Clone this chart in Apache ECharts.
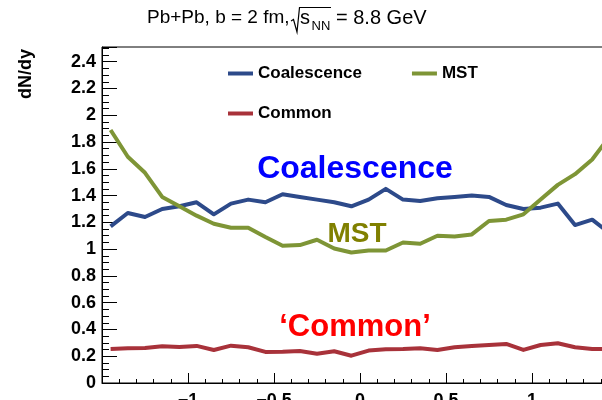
<!DOCTYPE html>
<html>
<head>
<meta charset="utf-8">
<script src="https://cdn.jsdelivr.net/npm/echarts@6/dist/echarts.min.js"></script>
<style>
  html, body { margin: 0; padding: 0; background: #fff; }
  #chart { width: 602px; height: 400px; }
</style>
</head>
<body>
<div id="chart"></div>
<script>
// Rapidity bin centres (bin width 0.1)
const rapidity = [-1.45, -1.35, -1.25, -1.15, -1.05, -0.95, -0.85, -0.75, -0.65, -0.55,
                  -0.45, -0.35, -0.25, -0.15, -0.05, 0.05, 0.15, 0.25, 0.35, 0.45,
                  0.55, 0.65, 0.75, 0.85, 0.95, 1.05, 1.15, 1.25, 1.35, 1.45];

// dN/dy per bin for each clusterisation method
const coalescence = [1.17, 1.27, 1.24, 1.30, 1.32, 1.35, 1.26, 1.34, 1.37, 1.35,
                     1.41, 1.39, 1.37, 1.35, 1.32, 1.37, 1.45, 1.37, 1.36, 1.38,
                     1.39, 1.40, 1.39, 1.33, 1.30, 1.31, 1.34, 1.18, 1.22, 1.12];
const mst = [1.89, 1.69, 1.57, 1.39, 1.32, 1.25, 1.19, 1.16, 1.16, 1.09,
             1.025, 1.03, 1.07, 1.005, 0.975, 0.99, 0.99, 1.05, 1.04, 1.10,
             1.095, 1.11, 1.21, 1.22, 1.26, 1.37, 1.48, 1.56, 1.67, 1.84];
const common = [0.254, 0.259, 0.262, 0.274, 0.269, 0.277, 0.247, 0.279, 0.267, 0.232,
                0.234, 0.239, 0.219, 0.237, 0.204, 0.242, 0.252, 0.254, 0.259, 0.247,
                0.267, 0.277, 0.284, 0.292, 0.247, 0.284, 0.297, 0.267, 0.254, 0.254];

const seriesNames = ['Coalescence', 'MST', 'Common'];
const seriesColors = ['#2d4a8a', '#7e9536', '#a8323a'];

const FONT = '"Liberation Sans", Arial, Helvetica, sans-serif';

function pairs(values) {
  return rapidity.map((x, i) => [x, values[i]]);
}
function minusSign(v) {
  return String(v).replace('-', '\u2212');
}

const chart = echarts.init(document.getElementById('chart'), null, { renderer: 'canvas' });

const option = {
  animation: false,
  backgroundColor: '#ffffff',
  grid: {
    left: 102, top: 47, width: 516, height: 336,
    outerBoundsMode: 'none', containLabel: false,
    show: true, borderColor: '#000', borderWidth: 1, backgroundColor: 'transparent'
  },
  xAxis: {
    type: 'value', min: -1.5, max: 1.5, interval: 0.5,
    axisLine: { show: true, onZero: false, lineStyle: { color: '#000', width: 1 } },
    axisTick: { show: true, inside: true, length: 10, lineStyle: { color: '#000' } },
    minorTick: { show: true, splitNumber: 5, length: 4, lineStyle: { color: '#000' } },
    splitLine: { show: false },
    axisLabel: {
      showMinLabel: false, showMaxLabel: false, margin: 9, hideOverlap: false,
      color: '#000', fontFamily: FONT, fontWeight: 'bold', fontSize: 18,
      formatter: minusSign
    }
  },
  yAxis: {
    type: 'value', min: 0, max: 2.51, interval: 0.2,
    axisLine: { show: true, onZero: false, lineStyle: { color: '#000', width: 1 } },
    axisTick: { show: true, inside: true, length: 15, lineStyle: { color: '#000' } },
    minorTick: { show: true, splitNumber: 4, length: 7, lineStyle: { color: '#000' } },
    splitLine: { show: false },
    axisLabel: {
      showMaxLabel: false, margin: 6, hideOverlap: false,
      color: '#000', fontFamily: FONT, fontWeight: 'bold', fontSize: 18
    }
  },
  legend: [
    {
      data: ['Coalescence', 'MST'], left: 223, top: 60, orient: 'horizontal',
      icon: 'rect', itemWidth: 25, itemHeight: 4, itemGap: 50,
      textStyle: { color: '#000', fontFamily: FONT, fontWeight: 'bold', fontSize: 17 }
    },
    {
      data: ['Common'], left: 223, top: 100, orient: 'horizontal',
      icon: 'rect', itemWidth: 25, itemHeight: 4,
      textStyle: { color: '#000', fontFamily: FONT, fontWeight: 'bold', fontSize: 17 }
    }
  ],
  series: [coalescence, mst, common].map((vals, i) => ({
    name: seriesNames[i],
    type: 'line',
    data: pairs(vals),
    showSymbol: false,
    symbol: 'none',
    color: seriesColors[i],
    lineStyle: { color: seriesColors[i], width: 4, join: 'round' },
    clip: true,
    z: 3
  })),
  graphic: [
    // title: Pb+Pb, b = 2 fm, sqrt(s_NN) = 8.8 GeV
    { type: 'text', left: 147, top: 8, style: { text: 'Pb+Pb, b = 2 fm,', fill: '#000', font: '19px ' + FONT } },
    { type: 'polyline', shape: { points: [[291, 21], [293.5, 19.5], [297, 32], [299.5, 7.5], [331, 7.5]] },
      style: { stroke: '#000', lineWidth: 1.2, fill: null } },
    { type: 'text', left: 300, top: 8, style: { text: 's', fill: '#000', font: '20px ' + FONT } },
    { type: 'text', left: 311.5, top: 20, style: { text: 'NN', fill: '#000', font: '13px ' + FONT } },
    { type: 'text', left: 336, top: 8, style: { text: '= 8.8 GeV', fill: '#000', font: '20px ' + FONT } },
    // y-axis title
    { type: 'text', x: 26, y: 74, rotation: Math.PI / 2,
      style: { text: 'dN/dy', fill: '#000', font: 'bold 18px ' + FONT, align: 'center', verticalAlign: 'middle' } },
    // curve annotations
    { type: 'text', x: 355, y: 169, z: 10,
      style: { text: 'Coalescence', fill: '#0000ff', font: 'bold 32px ' + FONT, align: 'center', verticalAlign: 'middle' } },
    { type: 'text', x: 357, y: 234, z: 10,
      style: { text: 'MST', fill: '#808000', font: 'bold 28px ' + FONT, align: 'center', verticalAlign: 'middle' } },
    { type: 'text', x: 355, y: 327, z: 10,
      style: { text: '\u2018Common\u2019', fill: '#ff0000', font: 'bold 31px ' + FONT, align: 'center', verticalAlign: 'middle' } }
  ]
};

chart.setOption(option);
</script>
</body>
</html>
